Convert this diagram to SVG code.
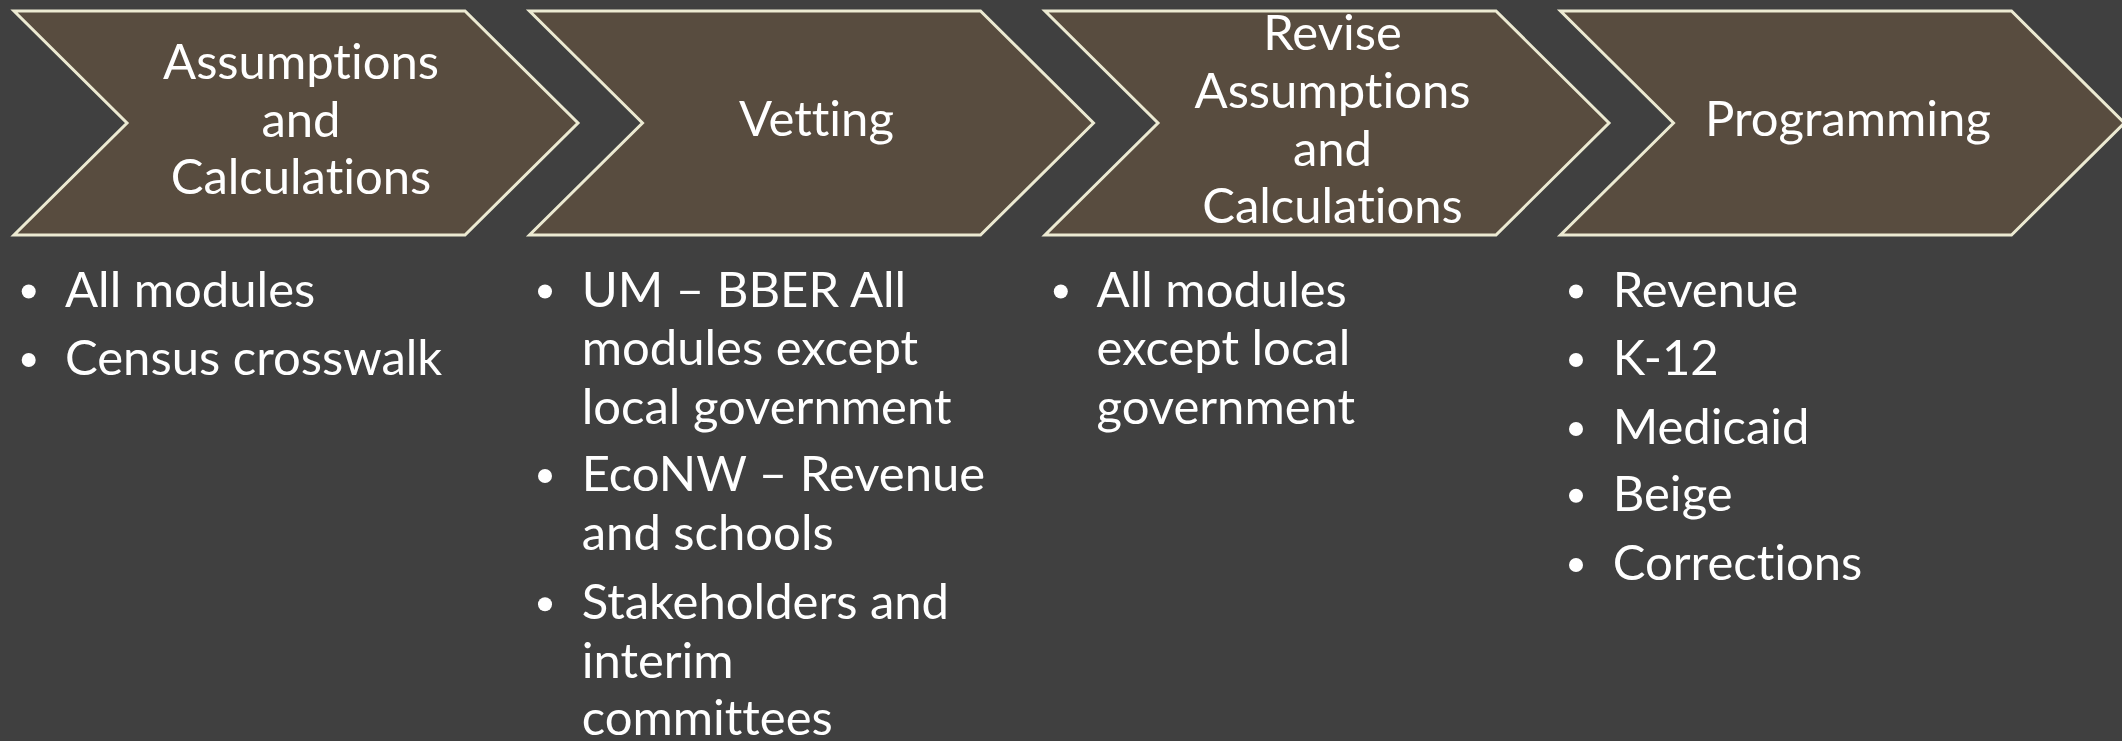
<svg xmlns="http://www.w3.org/2000/svg" width="2122" height="741" viewBox="0 0 2122 741">
<style>
.bg{fill:#404040}
.chev{fill:#584C3F;stroke:#ECEAD2;stroke-width:3;stroke-linejoin:miter}
.lbl{font-family:Lato,"Open Sans","Liberation Sans",sans-serif;font-size:49px;fill:#FFFFFF;text-anchor:middle;font-variant-ligatures:none}
.item{font-family:Lato,"Open Sans","Liberation Sans",sans-serif;font-size:49px;fill:#FFFFFF;font-variant-ligatures:none}
.dot{fill:#FFFFFF}
</style>
<defs>
<polygon id="chevShape" points="0,11 451,11 564,123 451,235 0,235 113,123"/>
</defs>
<rect class="bg" x="0" y="0" width="2122" height="741"/>

<g id="step1">
<use href="#chevShape" class="chev" x="14" y="0"/>
<text class="lbl" x="301" y="79">Assumptions</text>
<text class="lbl" x="301" y="137">and</text>
<text class="lbl" x="301" y="194">Calculations</text>
</g>

<g id="step2">
<use href="#chevShape" class="chev" x="529.5" y="0"/>
<text class="lbl" x="816.5" y="136">Vetting</text>
</g>

<g id="step3">
<use href="#chevShape" class="chev" x="1045" y="0"/>
<text class="lbl" x="1332.5" y="50">Revise</text>
<text class="lbl" x="1332.5" y="108">Assumptions</text>
<text class="lbl" x="1332.5" y="166">and</text>
<text class="lbl" x="1332.5" y="223">Calculations</text>
</g>

<g id="step4">
<use href="#chevShape" class="chev" x="1560.5" y="0"/>
<text class="lbl" x="1848" y="136">Programming</text>
</g>

<g id="list1">
<circle class="dot" cx="28.7" cy="291.5" r="7"/>
<text class="item" x="65" y="306.7">All modules</text>
<circle class="dot" cx="28.7" cy="360" r="7"/>
<text class="item" x="65" y="375">Census crosswalk</text>
</g>

<g id="list2">
<circle class="dot" cx="545" cy="291.5" r="7"/>
<text class="item" x="581.7" y="306.7">UM – BBER All</text>
<text class="item" x="581.7" y="365.4">modules except</text>
<text class="item" x="581.7" y="424.3">local government</text>
<circle class="dot" cx="545" cy="476" r="7"/>
<text class="item" x="581.7" y="491">EcoNW – Revenue</text>
<text class="item" x="581.7" y="550">and schools</text>
<circle class="dot" cx="545" cy="604.3" r="7"/>
<text class="item" x="581.7" y="619.3">Stakeholders and</text>
<text class="item" x="581.7" y="678.3">interim</text>
<text class="item" x="581.7" y="735">committees</text>
</g>

<g id="list3">
<circle class="dot" cx="1060.8" cy="291.5" r="7"/>
<text class="item" x="1096.6" y="306.7">All modules</text>
<text class="item" x="1096.6" y="365.4">except local</text>
<text class="item" x="1096.6" y="424.3">government</text>
</g>

<g id="list4">
<circle class="dot" cx="1576" cy="291.5" r="7"/>
<text class="item" x="1612.7" y="306.7">Revenue</text>
<circle class="dot" cx="1576" cy="360" r="7"/>
<text class="item" x="1612.7" y="375">K-12</text>
<circle class="dot" cx="1576" cy="429" r="7"/>
<text class="item" x="1612.7" y="444">Medicaid</text>
<circle class="dot" cx="1576" cy="495.7" r="7"/>
<text class="item" x="1612.7" y="510.7">Beige</text>
<circle class="dot" cx="1576" cy="565" r="7"/>
<text class="item" x="1612.7" y="580">Corrections</text>
</g>

<g id="connectors"/>
</svg>
